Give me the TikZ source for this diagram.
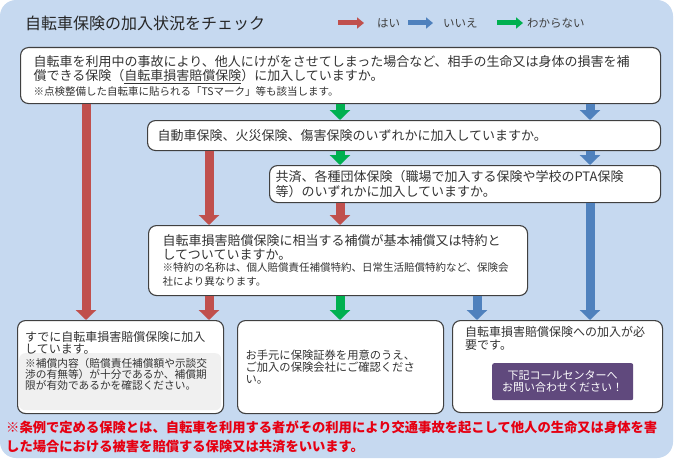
\documentclass[tikz,border=0pt]{standalone}
\usepackage{fontspec}
\setmainfont{Noto Sans CJK JP}
\usetikzlibrary{positioning, arrows.meta}

\definecolor{panelblue}{RGB}{198,217,240}
\definecolor{yesred}{RGB}{192,80,77}
\definecolor{noblue}{RGB}{79,129,189}
\definecolor{unkgreen}{RGB}{0,176,80}
\definecolor{boxline}{RGB}{64,64,64}
\definecolor{notegray}{RGB}{240,240,240}
\definecolor{callpurple}{RGB}{96,73,125}
\definecolor{alertred}{RGB}{230,0,18}

\newcommand{\qsize}{\fontsize{13}{14.5}\selectfont}
\newcommand{\notesize}{\fontsize{10.5}{11.5}\selectfont}

\begin{document}
\begin{tikzpicture}[
        x=1pt, y=-1pt,
        qbox/.style={rectangle, draw=boxline, fill=white, line width=1.1pt, rounded corners=8pt, anchor=north west, align=left, font=\qsize, text=black!80},
        plaintext/.style={inner sep=0pt, align=left, text=black!80},
        flow/.style={line width=9pt, -{Triangle[width=20pt,length=10pt]}},
        yesarrow/.style={flow, draw=yesred},
        noarrow/.style={flow, draw=noblue},
        unkarrow/.style={flow, draw=unkgreen},
        keyarrow/.style={line width=5pt, -{Triangle[width=11pt,length=7pt]}},
        keylabel/.style={anchor=west, inner sep=0pt, font=\fontsize{11.5}{12}\selectfont, text=black!75}
    ]
    \useasboundingbox (0,0) rectangle (690,460);
    \fill[panelblue, rounded corners=16pt] (0,0) rectangle (673,458);

    \node[anchor=west, inner sep=0pt, font=\fontsize{16}{16}\selectfont, text=black!85] (title) at (25,23) {自転車保険の加入状況をチェック};

    \node[keylabel] (keyyes) at (377,23) {はい};
    \node[keylabel] (keyno) at (443,23) {いいえ};
    \node[keylabel] (keyunk) at (527,23) {わからない};
    \draw[keyarrow, draw=yesred] ([xshift=-39pt]keyyes.west) -- ([xshift=-13pt]keyyes.west);
    \draw[keyarrow, draw=noblue] ([xshift=-35pt]keyno.west) -- ([xshift=-10pt]keyno.west);
    \draw[keyarrow, draw=unkgreen] ([xshift=-30pt]keyunk.west) -- ([xshift=-4pt]keyunk.west);

    \coordinate (colA) at (86,0);
    \coordinate (colB) at (209,0);
    \coordinate (colC) at (340,0);
    \coordinate (colD) at (477,0);
    \coordinate (colE) at (590,0);

    \node[qbox, text width=614pt, inner xsep=13pt, minimum height=56pt] (q1) at (20,47) {自転車を利用中の事故により、他人にけがをさせてしまった場合など、相手の生命又は身体の損害を補\\償できる保険（\underline{自転車損害賠償保険}）に加入していますか。\par\notesize ※点検整備した自転車に貼られる「TSマーク」等も該当します。};
    \node[qbox, text width=493pt, inner xsep=10pt, minimum height=30pt] (q2) at (147,120) {自動車保険、火災保険、傷害保険のいずれかに加入していますか。};
    \node[qbox, text width=379pt, inner xsep=6pt, minimum height=37pt] (q3) at (269,165) {共済、各種団体保険（職場で加入する保険や学校のPTA保険\\等）のいずれかに加入していますか。};
    \node[qbox, text width=351pt, inner xsep=14pt, minimum height=70pt] (q4) at (148,225) {自転車損害賠償保険に相当する補償が基本補償又は特約と\\してついていますか。\par\notesize ※特約の名称は、個人賠償責任補償特約、日常生活賠償特約など、保険会\\社により異なります。};

    \node[qbox, minimum width=206pt, minimum height=93pt] (resA) at (17,320) {};
    \node[fill=notegray, rounded corners=6pt, minimum width=202pt, minimum height=57pt, inner sep=0pt, below right=33pt and 2pt of resA.north west] (noteA) {};
    \node[plaintext, font=\fontsize{12}{12.5}\selectfont, below right=11pt and 8pt of resA.north west] (resAtext) {すでに自転車損害賠償保険に加入\\しています。};
    \node[plaintext, font=\fontsize{10.7}{11}\selectfont, below right=5pt and 6pt of noteA.north west] (noteAtext) {※補償内容（賠償責任補償額や示談交\\渉の有無等）が十分であるか、補償期\\限が有効であるかを確認ください。};

    \node[qbox, text width=190pt, inner xsep=8pt, minimum height=93pt, font=\fontsize{11.3}{11.6}\selectfont] (resB) at (237,320) {お手元に保険証券を用意のうえ、\\ご加入の保険会社にご確認くださ\\い。};

    \node[qbox, minimum width=210pt, minimum height=92pt] (resC) at (452,320) {};
    \node[plaintext, font=\fontsize{12}{13}\selectfont, below right=6pt and 13pt of resC.north west] (resCtext) {自転車損害賠償保険への加入が必\\要です。};
    \node[fill=callpurple, text=white, rounded corners=2pt, minimum width=141pt, minimum height=37pt, inner sep=0pt, align=center, font=\fontsize{11}{11.5}\selectfont, below right=43pt and 40pt of resC.north west] (callbtn) {下記コールセンターへ\\お問い合わせください！};

    \node[plaintext, anchor=north west, text=alertred, font=\bfseries\fontsize{13.3}{18.5}\selectfont] (footnote) at (6,421) {※条例で定める保険とは、自転車を利用する者がその利用により交通事故を起こして他人の生命又は身体を害\\した場合における被害を賠償する保険又は共済をいいます。};

    \draw[yesarrow] (q1.south -| colA) -- (resA.north -| colA);
    \draw[unkarrow] (q1.south -| colC) -- (q2.north -| colC);
    \draw[noarrow] (q1.south -| colE) -- (q2.north -| colE);
    \draw[yesarrow] (q2.south -| colB) -- (q4.north -| colB);
    \draw[unkarrow] (q2.south -| colC) -- (q3.north -| colC);
    \draw[noarrow] (q2.south -| colE) -- (q3.north -| colE);
    \draw[yesarrow] (q3.south -| colC) -- (q4.north -| colC);
    \draw[noarrow] (q3.south -| colE) -- (resC.north -| colE);
    \draw[yesarrow] (q4.south -| colB) -- (resA.north -| colB);
    \draw[unkarrow] (q4.south -| colC) -- (resB.north -| colC);
    \draw[noarrow] (q4.south -| colD) -- (resC.north -| colD);
\end{tikzpicture}
\end{document}
